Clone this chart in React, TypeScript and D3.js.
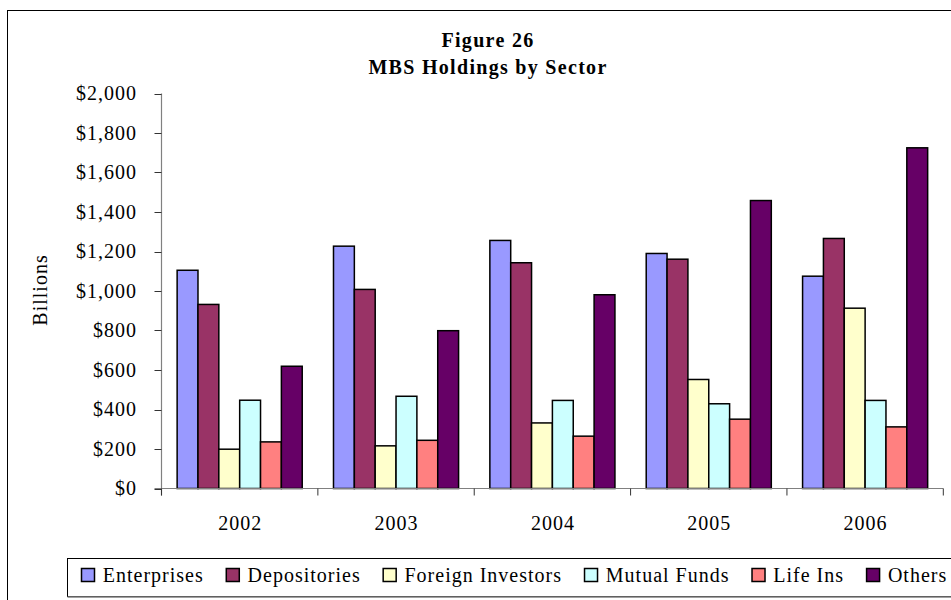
import React, { useEffect, useRef } from "react";
import * as d3 from "d3";

const years = ["2002", "2003", "2004", "2005", "2006"];
const seriesNames = ["Enterprises", "Depositories", "Foreign Investors", "Mutual Funds", "Life Ins", "Others"];
const enterprises = [1105, 1227, 1256, 1190, 1075];
const depositories = [932, 1008, 1143, 1161, 1266];
const foreignInvestors = [199, 216, 332, 552, 913];
const mutualFunds = [447, 467, 446, 429, 446];
const lifeIns = [236, 244, 265, 351, 312];
const others = [619, 799, 981, 1458, 1725];
const seriesColors = ["#9999FF", "#993366", "#FFFFCC", "#CCFFFF", "#FF8080", "#660066"];
const yTicks = [0, 200, 400, 600, 800, 1000, 1200, 1400, 1600, 1800, 2000];

const seriesValues = [enterprises, depositories, foreignInvestors, mutualFunds, lifeIns, others];

const FONT = "Liberation Serif";

export default function App() {
  const ref = useRef<SVGSVGElement | null>(null);

  useEffect(() => {
    const svg = d3.select(ref.current);
    svg.selectAll("*").remove();

    const W = 951;
    const left = 161.5, right = 943.3, top = 93.5, bottom = 488.5;

    // outer chart frame
    svg.append("rect").attr("x", 7.5).attr("y", 10.5).attr("width", 1000).attr("height", 700)
      .attr("fill", "white").attr("stroke", "black").attr("stroke-width", 1);

    // title
    const title = svg.append("g").style("font-family", FONT).style("font-weight", "bold")
      .style("font-size", "20px").style("letter-spacing", "1.3px").attr("text-anchor", "middle");
    title.append("text").attr("x", 488).attr("y", 47).text("Figure 26");
    title.append("text").attr("x", 488).attr("y", 73.5).text("MBS Holdings by Sector");

    const x0 = d3.scaleBand<string>().domain(years).range([left, right]).paddingInner(0).paddingOuter(0);
    const bw = x0.bandwidth();
    const x1 = d3.scaleBand<string>().domain(seriesNames).range([bw * 0.1, bw * 0.9]).padding(0);
    const y = d3.scaleLinear().domain([0, 2000]).range([bottom, top]);

    // bars
    const groups = svg.append("g").selectAll("g").data(years).join("g")
      .attr("transform", (d) => `translate(${x0(d)},0)`);
    groups.selectAll("rect")
      .data((d, i) => seriesNames.map((s, k) => ({ s, v: seriesValues[k][i], c: seriesColors[k] })))
      .join("rect")
      .attr("x", (d) => x1(d.s)!)
      .attr("y", (d) => y(d.v))
      .attr("width", x1.bandwidth())
      .attr("height", (d) => bottom - y(d.v))
      .attr("fill", (d) => d.c)
      .attr("stroke", "black")
      .attr("stroke-width", 1.5);

    const txt = (sel: any) => sel.style("font-family", FONT).style("font-size", "20px").style("letter-spacing", "1px");

    // y axis
    const yAxis = svg.append("g");
    yAxis.append("line").attr("x1", left).attr("x2", left).attr("y1", top).attr("y2", bottom + 7)
      .attr("stroke", "#808080").attr("stroke-width", 1.2);
    yAxis.selectAll("line.tick").data(yTicks).join("line").attr("class", "tick")
      .attr("x1", left - 7).attr("x2", left).attr("y1", (d) => Math.round(y(d)) + 0.5).attr("y2", (d) => Math.round(y(d)) + 0.5)
      .attr("stroke", "#333").attr("stroke-width", 1);
    yAxis.selectAll("text").data(yTicks).join("text")
      .attr("x", 137).attr("y", (d) => y(d) + 6.5)
      .attr("text-anchor", "end").call(txt)
      .text((d) => "$" + d3.format(",")(d));

    // x axis
    const xAxis = svg.append("g");
    xAxis.append("line").attr("x1", left - 7).attr("x2", right).attr("y1", bottom).attr("y2", bottom)
      .attr("stroke", "#808080").attr("stroke-width", 1.2);
    const bounds = years.map((d) => x0(d)!).concat([right]);
    xAxis.selectAll("line.tick").data(bounds).join("line").attr("class", "tick")
      .attr("x1", (d) => d).attr("x2", (d) => d).attr("y1", bottom).attr("y2", bottom + 7)
      .attr("stroke", "#333").attr("stroke-width", 1);
    xAxis.selectAll("text").data(years).join("text")
      .attr("x", (d) => x0(d)! + bw / 2 + 0.5).attr("y", 530)
      .attr("text-anchor", "middle").call(txt)
      .text((d) => d);

    // y axis title
    svg.append("text").attr("transform", "translate(47,290) rotate(-90)")
      .attr("text-anchor", "middle").call(txt)
      .text("Billions");

    // legend
    const lg = svg.append("g");
    lg.append("rect").attr("x", 67.5).attr("y", 558.5).attr("width", 1000).attr("height", 38)
      .attr("fill", "white").attr("stroke", "black").attr("stroke-width", 1);
    lg.append("line").attr("x1", 67.5).attr("x2", W).attr("y1", 597).attr("y2", 597)
      .attr("stroke", "#808080").attr("stroke-width", 1.5);
    let cx = 81.5;
    seriesNames.forEach((s, k) => {
      lg.append("rect").attr("x", cx).attr("y", 568.5).attr("width", 13).attr("height", 13)
        .attr("fill", seriesColors[k]).attr("stroke", "black").attr("stroke-width", 1.5);
      const t = lg.append("text").attr("x", cx + 21.3).attr("y", 582).call(txt).text(s);
      const w = (t.node() as SVGTextElement).getComputedTextLength();
      cx = cx + 21.3 + w + 22.5;
    });
  }, []);

  return (
    <svg ref={ref} width={951} height={600}
      style={{ position: "absolute", left: 0, top: 0, background: "white", display: "block" }} />
  );
}
